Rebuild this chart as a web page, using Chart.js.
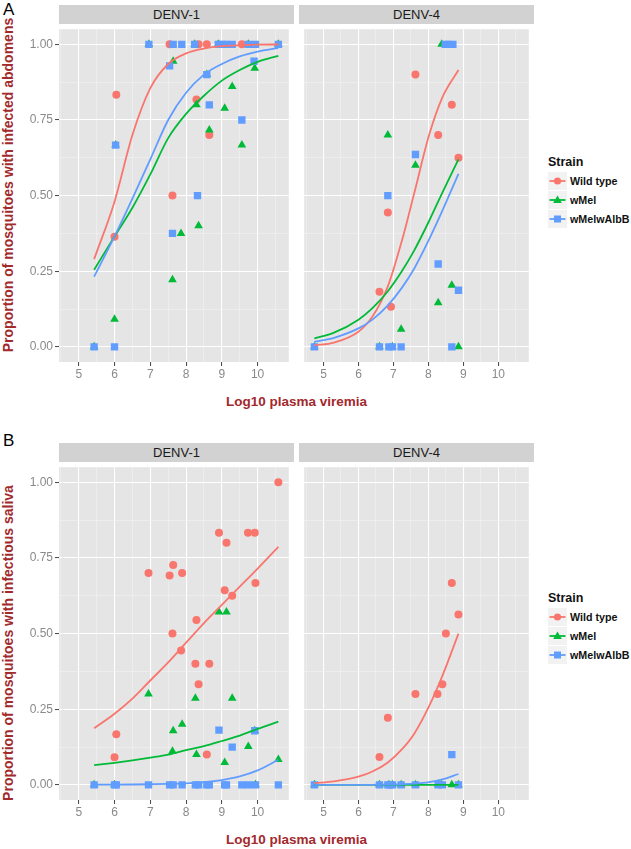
<!DOCTYPE html>
<html>
<head>
<meta charset="utf-8">
<script src="https://cdn.jsdelivr.net/npm/chart.js@4.4.1/dist/chart.umd.min.js"></script>
<style>
  body { margin: 0; background: #fff; font-family: "Liberation Sans", Arial, sans-serif; }
  #page { position: relative; width: 631px; height: 849px; overflow: hidden; }
  canvas { position: absolute; }
  .strip { position: absolute; height: 19px; line-height: 19px; background: #d2d2d2;
           text-align: center; font-size: 13px; color: #1a1a1a; }
  .ytitle { position: absolute; width: 400px; height: 16px; line-height: 16px; text-align: center;
            font-weight: bold; font-size: 14px; color: #a2292c; transform: rotate(-90deg); }
  .xtitle { position: absolute; width: 475px; left: 59px; text-align: center;
            font-weight: bold; font-size: 13.5px; color: #a2292c; }
  .tag { position: absolute; left: 3px; font-size: 17px; color: #000; }
  .legend { position: absolute; left: 548px; font-weight: bold; color: #111; white-space: nowrap; }
  .legend .ttl { font-size: 12.5px; height: 18px; line-height: 18px; }
  .legend .row { height: 19.3px; display: flex; align-items: center; font-size: 10.7px; }
  .legend svg { margin-right: 3px; }
</style>
</head>
<body>
<div id="page">
  <div class="tag" style="top:0px">A</div>
  <div class="tag" style="top:431px">B</div>

  <div class="strip" style="left:59px;top:5px;width:235px">DENV-1</div>
  <div class="strip" style="left:299px;top:5px;width:235px">DENV-4</div>
  <div class="strip" style="left:59px;top:443px;width:235px">DENV-1</div>
  <div class="strip" style="left:299px;top:443px;width:235px">DENV-4</div>

  <canvas id="a1" width="274" height="362" style="left:20px;top:24px"></canvas>
  <canvas id="a4" width="235" height="362" style="left:299px;top:24px"></canvas>
  <canvas id="b1" width="274" height="362" style="left:20px;top:462px"></canvas>
  <canvas id="b4" width="235" height="362" style="left:299px;top:462px"></canvas>

  <div class="ytitle" style="left:-192px;top:177px">Proportion of mosquitoes with infected abdomens</div>
  <div class="ytitle" style="left:-192px;top:635px">Proportion of mosquitoes with infectious saliva</div>
  <div class="xtitle" style="top:394px">Log10 plasma viremia</div>
  <div class="xtitle" style="top:832px">Log10 plasma viremia</div>

  <div class="legend" id="legA" style="top:153px"></div>
  <div class="legend" id="legB" style="top:589px"></div>
</div>

<script>
const strains = ["Wild type", "wMel", "wMelwAlbB"];
const xTicks = [5, 6, 7, 8, 9, 10];
const yTicks = [0, 0.25, 0.5, 0.75, 1];

// A: infected abdomens, DENV-1  [log10 viremia, proportion]
const abdD1Wild = [[6.05, 0.833], [6.0, 0.364], [7.54, 1.0], [7.62, 0.5], [8.29, 0.818], [8.35, 1.0],
  [8.58, 1.0], [8.65, 0.70], [9.56, 1.0]];
const abdD1Mel = [[5.43, 0], [6.0, 0.091], [6.03, 0.667], [6.96, 1.0], [7.62, 0.222], [7.64, 0.944],
  [7.86, 0.375], [8.24, 1.0], [8.29, 0.80], [8.35, 0.40], [8.58, 0.90], [8.65, 0.717], [8.9, 1.0],
  [9.08, 0.789], [9.29, 0.861], [9.56, 0.667], [9.74, 1.0], [9.92, 0.921], [10.58, 1.0]];
const abdD1Alb = [[5.43, 0], [6.0, 0], [6.03, 0.667], [6.96, 1.0], [7.54, 0.929], [7.62, 0.375],
  [7.64, 1.0], [7.88, 1.0], [8.24, 1.0], [8.32, 0.5], [8.58, 0.90], [8.65, 0.80], [8.9, 1.0],
  [9.02, 1.0], [9.13, 1.0], [9.29, 1.0], [9.56, 0.75], [9.74, 1.0], [9.9, 0.944], [9.94, 1.0], [10.58, 1.0]];

// A: infected abdomens, DENV-4
const abdD4Wild = [[6.60, 0.182], [6.84, 0.444], [6.93, 0.133], [7.63, 0.90], [8.28, 0.70],
  [8.67, 0.80], [8.86, 0.625]];
const abdD4Mel = [[4.74, 0], [6.60, 0], [6.84, 0.70], [6.97, 0], [7.22, 0.058], [7.63, 0.60],
  [8.28, 0.146], [8.38, 1.0], [8.67, 0.204], [8.86, 0]];
const abdD4Alb = [[4.74, 0], [6.60, 0], [6.84, 0.50], [6.87, 0], [6.97, 0], [7.22, 0], [7.63, 0.636],
  [8.28, 0.274], [8.48, 1.0], [8.58, 1.0], [8.67, 0], [8.70, 1.0], [8.86, 0.187]];

// B: infectious saliva, DENV-1
const salD1Wild = [[6.0, 0.091], [6.05, 0.167], [6.95, 0.70], [7.54, 0.692], [7.62, 0.50], [7.64, 0.727],
  [7.86, 0.444], [7.89, 0.70], [8.26, 0.40], [8.29, 0.545], [8.35, 0.333], [8.58, 0.10], [8.65, 0.40],
  [8.92, 0.833], [9.08, 0.643], [9.13, 0.80], [9.29, 0.625], [9.73, 0.833], [9.92, 0.833],
  [9.94, 0.667], [10.58, 1.0]];
const salD1Mel = [[5.43, 0], [6.0, 0], [6.95, 0.30], [7.62, 0.111], [7.64, 0.179], [7.89, 0.20],
  [8.26, 0.286], [8.29, 0.10], [8.92, 0.571], [9.08, 0.074], [9.13, 0.571], [9.29, 0.286],
  [9.74, 0.127], [9.92, 0.179], [9.94, 0], [10.58, 0.084]];
const salD1Alb = [[5.43, 0], [6.0, 0], [6.05, 0], [6.95, 0], [7.54, 0], [7.64, 0], [7.89, 0], [8.26, 0],
  [8.35, 0], [8.58, 0], [8.65, 0], [8.92, 0.181], [9.08, 0], [9.13, 0], [9.29, 0.125], [9.56, 0],
  [9.74, 0], [9.92, 0.179], [9.94, 0], [10.58, 0]];

// B: infectious saliva, DENV-4
const salD4Wild = [[6.60, 0.092], [6.84, 0.222], [7.63, 0.30], [8.26, 0.30], [8.40, 0.333],
  [8.50, 0.50], [8.67, 0.667], [8.86, 0.563]];
const salD4Mel = [[4.74, 0], [6.60, 0], [6.87, 0], [6.97, 0], [7.22, 0], [7.63, 0], [8.28, 0],
  [8.38, 0], [8.67, 0], [8.86, 0]];
const salD4Alb = [[4.74, 0], [6.60, 0], [6.84, 0], [6.90, 0], [6.97, 0], [7.22, 0], [7.63, 0],
  [8.28, 0], [8.40, 0], [8.67, 0.10], [8.86, 0]];

// fitted curves at these x values
const fitXD1 = [5.43, 6, 6.5, 7, 7.5, 8, 8.5, 9, 9.5, 10, 10.58];
const fitXD4 = [4.74, 5.3, 6, 6.4, 6.84, 7.24, 7.6, 8.02, 8.4, 8.86];

const abdD1WildFit = [0.29, 0.48, 0.70, 0.855, 0.935, 0.97, 0.986, 0.994, 0.997, 0.999, 0.9995];
const abdD1MelFit = [0.255, 0.365, 0.46, 0.57, 0.69, 0.77, 0.83, 0.88, 0.915, 0.942, 0.962];
const abdD1AlbFit = [0.232, 0.365, 0.49, 0.62, 0.75, 0.84, 0.90, 0.935, 0.96, 0.976, 0.988];
const abdD4WildFit = [0.005, 0.014, 0.05, 0.10, 0.20, 0.35, 0.51, 0.70, 0.825, 0.915];
const abdD4MelFit = [0.028, 0.047, 0.09, 0.128, 0.184, 0.25, 0.32, 0.416, 0.51, 0.62];
const abdD4AlbFit = [0.017, 0.030, 0.061, 0.09, 0.137, 0.195, 0.26, 0.355, 0.45, 0.572];

const salD1WildFit = [0.187, 0.235, 0.285, 0.345, 0.405, 0.47, 0.535, 0.595, 0.655, 0.715, 0.787];
const salD1MelFit = [0.065, 0.073, 0.081, 0.09, 0.10, 0.115, 0.128, 0.145, 0.163, 0.185, 0.209];
const salD1AlbFit = [0.0005, 0.0008, 0.0012, 0.002, 0.003, 0.005, 0.009, 0.016, 0.028, 0.048, 0.083];
const salD4WildFit = [0.006, 0.0115, 0.027, 0.044, 0.074, 0.117, 0.17, 0.26, 0.36, 0.50];
const salD4MelFit = [0, 0, 0, 0, 0, 0, 0, 0, 0, 0];
const salD4AlbFit = [0, 0, 0, 0.0003, 0.0008, 0.002, 0.004, 0.009, 0.018, 0.036];

const colors = ["#F8766D", "#00BA38", "#619CFF"];
const shapes = ["circle", "triangle", "rect"];
const radii = [4, 5, 5.2];

const X_MIN = 4.448, X_MAX = 10.872;
const xGrid = [4.5, 5, 5.5, 6, 6.5, 7, 7.5, 8, 8.5, 9, 9.5, 10, 10.5];
const yGrid = [0, 0.125, 0.25, 0.375, 0.5, 0.625, 0.75, 0.875, 1];

const panelBg = {
  id: "panelBg",
  beforeDraw(chart) {
    const a = chart.chartArea, ctx = chart.ctx;
    ctx.save();
    ctx.fillStyle = "#e5e5e5";
    ctx.fillRect(a.left, a.top, a.right - a.left, a.bottom - a.top);
    ctx.restore();
  }
};

function gridColor(major) {
  return c => major.includes(c.tick.value) ? "#ffffff" : "#f2f2f2";
}
function gridWidth(major) {
  return c => major.includes(c.tick.value) ? 1.1 : 0.6;
}

function facet(id, points, fitX, fits, showY) {
  const datasets = [];
  points.forEach((pts, i) => {
    datasets.push({
      data: pts.map(p => ({ x: p[0], y: p[1] })),
      showLine: false,
      pointStyle: shapes[i],
      pointRadius: radii[i],
      backgroundColor: colors[i],
      borderColor: colors[i],
      borderWidth: 0,
      order: 30 - i * 10
    });
  });
  fits.forEach((ys, i) => {
    datasets.push({
      data: fitX.map((x, k) => ({ x: x, y: ys[k] })),
      showLine: true,
      pointRadius: 0,
      borderColor: colors[i],
      borderWidth: 1.8,
      cubicInterpolationMode: "monotone",
      fill: false,
      order: 3 - i
    });
  });

  new Chart(document.getElementById(id), {
    type: "scatter",
    data: { datasets: datasets },
    options: {
      responsive: false,
      animation: false,
      devicePixelRatio: 1,
      layout: { padding: 0 },
      plugins: { legend: { display: false }, tooltip: { enabled: false } },
      scales: {
        x: {
          type: "linear", min: X_MIN, max: X_MAX,
          afterBuildTicks: s => { s.ticks = xGrid.map(v => ({ value: v })); },
          afterFit: s => { s.height = 24; s.paddingLeft = 0; s.paddingRight = 0; },
          border: { display: false },
          grid: {
            color: gridColor(xTicks), lineWidth: gridWidth(xTicks),
            tickLength: 4, tickWidth: 1,
            tickColor: c => xTicks.includes(c.tick.value) ? "#444" : "rgba(0,0,0,0)"
          },
          ticks: {
            autoSkip: false, maxRotation: 0, padding: 1,
            color: "#8a8a8a", font: { family: "Liberation Sans", size: 12 },
            callback: v => xTicks.includes(v) ? String(v) : ""
          }
        },
        y: {
          type: "linear", min: -0.05, max: 1.05,
          afterBuildTicks: s => { s.ticks = yGrid.map(v => ({ value: v })); },
          afterFit: s => { s.width = showY ? 39 : 0; s.paddingTop = 0; s.paddingBottom = 0; },
          border: { display: false },
          grid: {
            color: gridColor(yTicks), lineWidth: gridWidth(yTicks),
            drawTicks: showY, tickLength: 4, tickWidth: 1,
            tickColor: c => yTicks.includes(c.tick.value) ? "#444" : "rgba(0,0,0,0)"
          },
          ticks: {
            display: showY, autoSkip: false, padding: 2,
            color: "#8a8a8a", font: { family: "Liberation Sans", size: 12 },
            callback: v => yTicks.includes(v) ? v.toFixed(2) : ""
          }
        }
      }
    },
    plugins: [panelBg]
  });
}

facet("a1", [abdD1Wild, abdD1Mel, abdD1Alb], fitXD1, [abdD1WildFit, abdD1MelFit, abdD1AlbFit], true);
facet("a4", [abdD4Wild, abdD4Mel, abdD4Alb], fitXD4, [abdD4WildFit, abdD4MelFit, abdD4AlbFit], false);
facet("b1", [salD1Wild, salD1Mel, salD1Alb], fitXD1, [salD1WildFit, salD1MelFit, salD1AlbFit], true);
facet("b4", [salD4Wild, salD4Mel, salD4Alb], fitXD4, [salD4WildFit, salD4MelFit, salD4AlbFit], false);

function keySvg(i) {
  let mark;
  if (i === 0) mark = '<circle cx="9.5" cy="9" r="3.6" fill="' + colors[i] + '"/>';
  else if (i === 1) mark = '<polygon points="9.5,4.6 13.8,12 5.2,12" fill="' + colors[i] + '"/>';
  else mark = '<rect x="6" y="5.5" width="7" height="7" fill="' + colors[i] + '"/>';
  return '<svg width="19" height="18"><rect width="19" height="18" fill="#f2f2f2"/>' +
    '<line x1="1.5" y1="9" x2="17.5" y2="9" stroke="' + colors[i] + '" stroke-width="1.8"/>' + mark + '</svg>';
}
function buildLegend(id) {
  let html = '<div class="ttl">Strain</div>';
  strains.forEach((s, i) => { html += '<div class="row">' + keySvg(i) + '<span>' + s + '</span></div>'; });
  document.getElementById(id).innerHTML = html;
}
buildLegend("legA");
buildLegend("legB");
</script>
</body>
</html>
